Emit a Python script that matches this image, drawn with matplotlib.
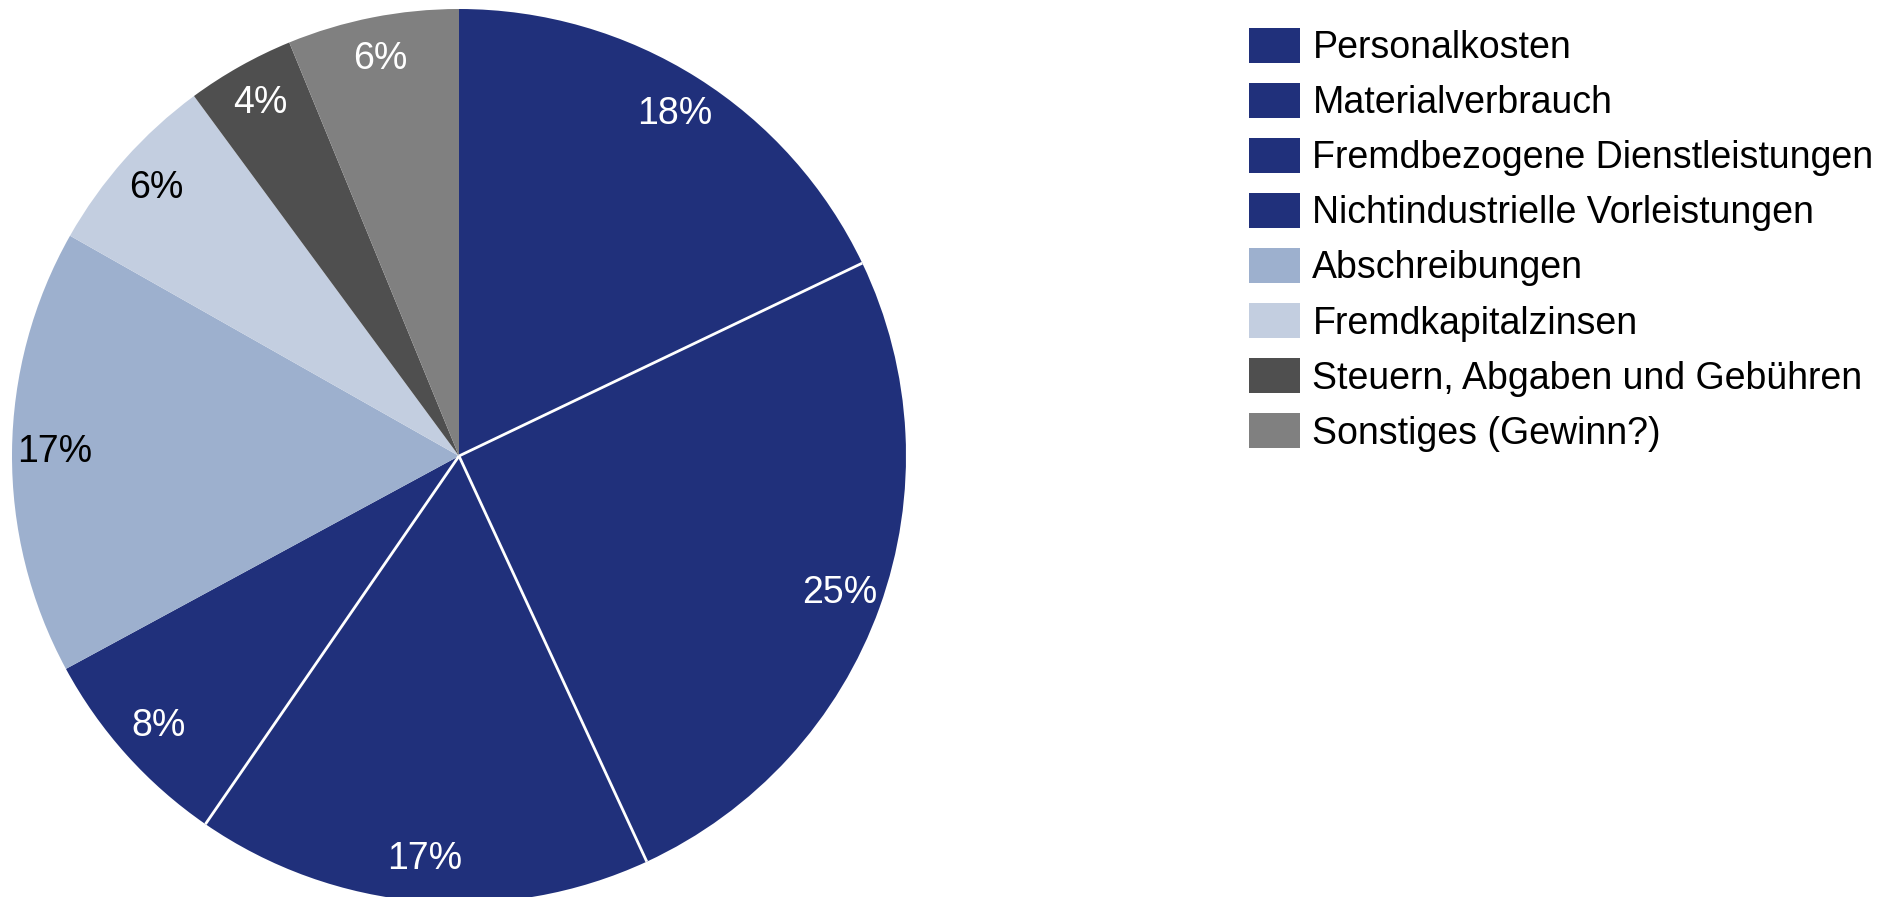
import matplotlib
matplotlib.use('Agg')
import matplotlib.pyplot as plt
import numpy as np

plt.rcParams['font.family'] = ['Liberation Sans', 'DejaVu Sans']

categories = ['Personalkosten', 'Materialverbrauch',
              'Fremdbezogene Dienstleistungen', 'Nichtindustrielle Vorleistungen',
              'Abschreibungen', 'Fremdkapitalzinsen',
              'Steuern, Abgaben und Gebühren', 'Sonstiges (Gewinn?)']
shares = [17.9, 25.2, 16.5, 7.5, 16.1, 6.7, 3.9, 6.2]
pct_labels = ['18%', '25%', '17%', '8%', '17%', '6%', '4%', '6%']

navy = '#20307b'
colors = [navy, navy, navy, navy, '#9db0ce', '#c3cee0', '#4f4f4f', '#808080']
text_colors = ['white', 'white', 'white', 'white', 'black', 'black', 'white', 'white']

W, H = 1892, 897
fig = plt.figure(figsize=(W / 100, H / 100), dpi=100)

cx, cy, r = 459, 456, 447
ax = fig.add_axes([(cx - r) / W, (H - cy - r) / H, 2 * r / W, 2 * r / H])

wedges, _ = ax.pie(shares, colors=colors, startangle=90, counterclock=False,
                   radius=1, wedgeprops=dict(linewidth=0))
ax.set_xlim(-1, 1)
ax.set_ylim(-1, 1)
ax.set_aspect('equal')
ax.axis('off')

# percent labels and white separators between the navy wedges
bounds = 90 - 360 * np.cumsum([0] + shares) / sum(shares)
for i, w in enumerate(wedges):
    mid = np.deg2rad((bounds[i] + bounds[i + 1]) / 2)
    ax.text(0.905 * np.cos(mid), 0.905 * np.sin(mid), pct_labels[i],
            ha='center', va='center', fontsize=27, color=text_colors[i])
for i in range(1, len(shares)):
    if colors[i] == navy and colors[i - 1] == navy:
        a = np.deg2rad(bounds[i])
        ax.plot([0, np.cos(a)], [0, np.sin(a)], color='white', lw=2,
                solid_capstyle='butt')

fig.legend(wedges, categories, loc='upper left',
           bbox_to_anchor=(1249 / W, 1 - 28 / H), frameon=False,
           fontsize=27, handlelength=1.36, handleheight=1.05,
           handletextpad=0.33, labelspacing=0.45, borderpad=0,
           borderaxespad=0)

fig.savefig('out.png', dpi=100)
